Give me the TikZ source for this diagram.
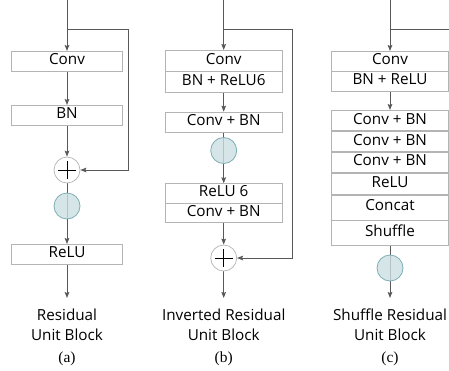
\documentclass[tikz,border=0pt]{standalone}
\usepackage{fontspec}
\setmainfont{Open Sans}
\newfontfamily\tagfont{Liberation Serif}
\usetikzlibrary{arrows.meta,backgrounds}
\definecolor{wire}{HTML}{585858}
\definecolor{boxgray}{HTML}{B4B4B4}
\definecolor{tealfill}{HTML}{CBDFE2}
\definecolor{tealedge}{HTML}{7FAEB5}
\begin{document}
\begin{tikzpicture}[x=1bp, y=-1bp, font=\fontsize{15.3}{17}\selectfont,
    unit/.style={draw=boxgray, line width=0.7bp, fill=white, inner sep=0pt, anchor=north, text height=0.72em, text depth=0pt},
    colA/.style={minimum width=110.6bp},
    colB/.style={minimum width=117.3bp},
    colC/.style={minimum width=116.6bp},
    adder/.style={circle, draw=boxgray, line width=0.7bp, fill=white, minimum size=26bp, inner sep=0pt,
        path picture={\draw[black, line width=0.85bp] ([xshift=-9bp]path picture bounding box.center) -- ([xshift=9bp]path picture bounding box.center)
            ([yshift=-9bp]path picture bounding box.center) -- ([yshift=9bp]path picture bounding box.center);}},
    act/.style={circle, draw=tealedge, line width=0.8bp, fill=tealfill, fill opacity=0.8, draw opacity=1, minimum size=26bp, inner sep=0pt},
    arr/.style={-{Stealth[length=6bp, width=4.6bp, inset=1bp]}},
    wireline/.style={draw=wire, line width=1bp},
    caption/.style={align=center, font=\fontsize{15.3}{20}\selectfont},
    tag/.style={font=\tagfont\fontsize{15.5}{17}\selectfont}]
\useasboundingbox (0,0) rectangle (449,370);

% (a) residual unit
\node (convA) at (67,51) [unit, colA, minimum height=20bp] {Conv};
\node (bnA) at (67,105) [unit, colA, minimum height=20bp] {BN};
\node (addA) at (67,170) [adder] {};
\node (actA) at (67,206) [act] {};
\node (reluA) at (67,244) [unit, colA, minimum height=20bp] {ReLU};
\node (capA) at (67,325) [caption] {Residual\\Unit Block};
\node (tagA) at (67,359) [tag] {(a)};
\coordinate (inA) at (67,0);
\coordinate (splitA) at (67,29);
\coordinate (turnA) at (128.7,29);
\coordinate (outA) at (67,298);

% (b) inverted residual unit
\node (convB) at (223.7,50) [unit, colB, minimum height=20.5bp] {Conv};
\node (bnreluB) at (convB.south) [unit, colB, minimum height=20.5bp] {BN + ReLU6};
\node (convbnB) at (223.7,111.7) [unit, colB, minimum height=20bp] {Conv + BN};
\node (actB) at (223.7,150.5) [act] {};
\node (reluB) at (223.7,183.3) [unit, colB, minimum height=19.4bp] {ReLU 6};
\node (projB) at (reluB.south) [unit, colB, minimum height=19bp] {Conv + BN};
\node (addB) at (223.7,258) [adder] {};
\node (capB) at (223.7,325) [caption] {Inverted Residual\\Unit Block};
\node (tagB) at (223.7,359) [tag] {(b)};
\coordinate (inB) at (223.7,0);
\coordinate (splitB) at (223.7,29);
\coordinate (turnB) at (292.7,29);
\coordinate (outB) at (223.7,298);

% (c) shuffle residual unit
\node (convC) at (390,51) [unit, colC, minimum height=19.5bp] {Conv};
\node (bnreluC) at (convC.south) [unit, colC, minimum height=19.5bp] {BN + ReLU};
\node (cb1C) at (390,110) [unit, colC, minimum height=20.3bp] {Conv + BN};
\node (cb2C) at (cb1C.south) [unit, colC, minimum height=20.2bp] {Conv + BN};
\node (cb3C) at (cb2C.south) [unit, colC, minimum height=20.2bp] {Conv + BN};
\node (reluC) at (cb3C.south) [unit, colC, minimum height=21bp] {ReLU};
\node (catC) at (reluC.south) [unit, colC, minimum height=25bp] {Concat};
\node (shufC) at (catC.south) [unit, colC, minimum height=25bp] {Shuffle};
\node (actC) at (390,268) [act] {};
\node (capC) at (390,325) [caption] {Shuffle Residual\\Unit Block};
\node (tagC) at (390,359) [tag] {(c)};
\coordinate (inC) at (390,0);
\coordinate (splitC) at (390,29);
\coordinate (edgeC) at (449,29);
\coordinate (outC) at (390,298);

\begin{scope}[on background layer]
\draw[wireline, arr] (inA) -- (convA);
\draw[wireline, arr] (splitA) -- (turnA) |- (addA);
\draw[wireline, arr] (convA) -- (bnA);
\draw[wireline, arr] (bnA) -- (addA);
\draw[wireline, arr] (addA) -- (reluA);
\draw[wireline, arr] (reluA) -- (outA);

\draw[wireline, arr] (inB) -- (convB);
\draw[wireline, arr] (splitB) -- (turnB) |- (addB);
\draw[wireline, arr] (bnreluB) -- (convbnB);
\draw[wireline, arr] (convbnB) -- (reluB);
\draw[wireline, arr] (projB) -- (addB);
\draw[wireline, arr] (addB) -- (outB);

\draw[wireline, arr] (inC) -- (convC);
\draw[wireline] (splitC) -- (edgeC);
\draw[wireline, arr] (bnreluC) -- (cb1C);
\draw[wireline, arr] (shufC) -- (outC);
\end{scope}
\end{tikzpicture}
\end{document}
